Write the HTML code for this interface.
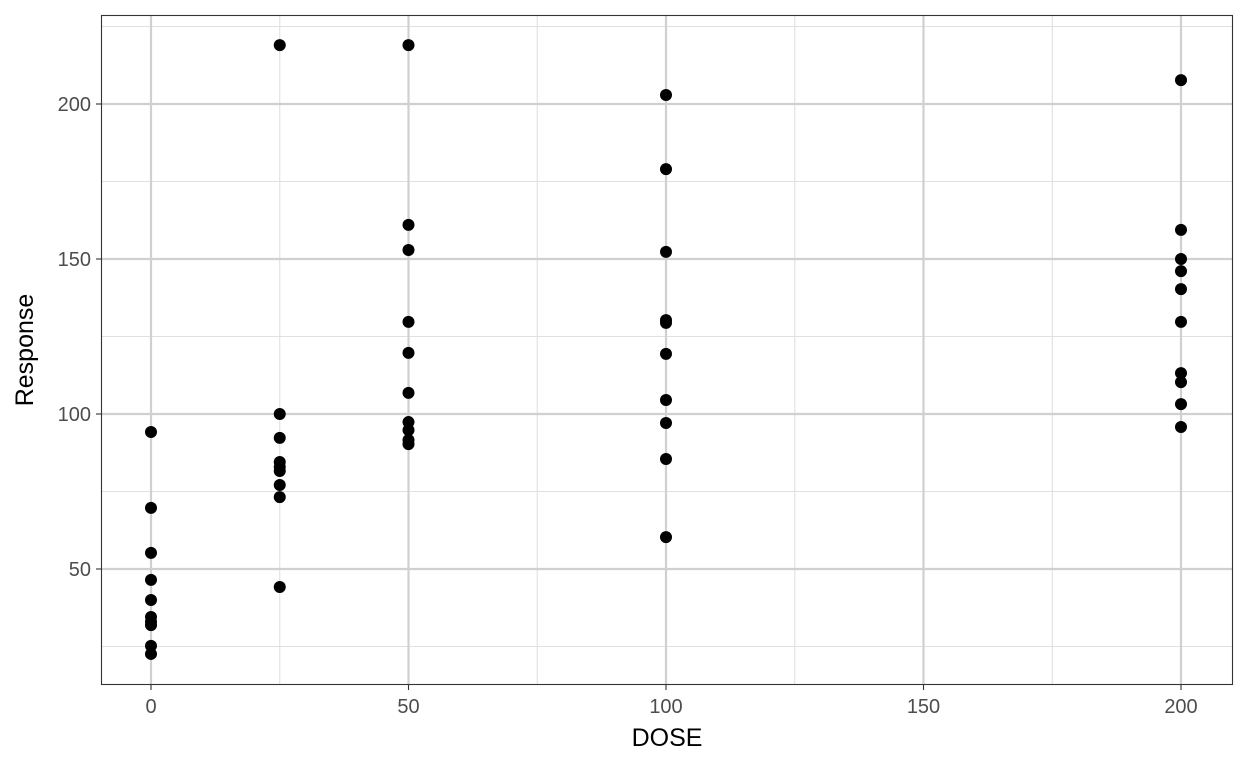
<!DOCTYPE html>
<html><head><meta charset="utf-8"><style>
html,body{margin:0;padding:0;background:#fff;}
svg{display:block;font-family:"Liberation Sans",sans-serif;}
</style></head><body>
<svg id="chart" width="1248" height="768" viewBox="0 0 1248 768" xmlns="http://www.w3.org/2000/svg"></svg>
<script>
const doses = [0, 25, 50, 100, 200];
const responses0 = [94.2, 69.7, 55.2, 46.5, 40, 34.5, 33, 31.9, 25.2, 22.6];
const responses25 = [219, 100, 92.3, 84.5, 82.9, 81.6, 77.1, 73.2, 44.2];
const responses50 = [219, 161, 152.9, 129.7, 119.7, 106.8, 97.4, 94.8, 91.6, 90.3];
const responses100 = [202.9, 179, 152.3, 130.3, 129.4, 119.4, 104.5, 97.1, 85.5, 60.3];
const responses200 = [207.7, 159.4, 150, 146.1, 140.3, 129.7, 113.2, 110.3, 103.2, 95.8];
const xTicks = [0, 50, 100, 150, 200];
const xMinor = [25, 75, 125, 175];
const yTicks = [50, 100, 150, 200];
const yMinor = [25, 75, 125, 175, 225];

const NS = "http://www.w3.org/2000/svg";
const svg = document.getElementById("chart");
const L = 101, R = 1233, T = 15, B = 685;
function xs(v){ return 151 + v * (1181 - 151) / 200; }
function ys(v){ return 724 - v * 3.1; }
function mk(tag, attrs, parent){
  const e = document.createElementNS(NS, tag);
  for (const k in attrs) e.setAttribute(k, attrs[k]);
  (parent || svg).appendChild(e);
  return e;
}
const grid = mk("g", {});


xMinor.forEach(v => mk("line", {x1: xs(v), x2: xs(v), y1: T, y2: B, stroke: "#e0e0e0", "stroke-width": 1.1}, grid));
yMinor.forEach(v => { const y = ys(v); if (y > T && y < B) mk("line", {x1: L, x2: R, y1: y, y2: y, stroke: "#e0e0e0", "stroke-width": 1.1}, grid); });
xTicks.forEach(v => mk("line", {x1: xs(v), x2: xs(v), y1: T, y2: B, stroke: "#d0d0d0", "stroke-width": 2.2}, grid));
yTicks.forEach(v => mk("line", {x1: L, x2: R, y1: ys(v), y2: ys(v), stroke: "#d0d0d0", "stroke-width": 2.2}, grid));

const pts = mk("g", {});


const series = [responses0, responses25, responses50, responses100, responses200];
series.forEach((arr, i) => arr.forEach(v => {
  const c = mk("circle", {cx: xs(doses[i]), cy: ys(v), r: 6, fill: "#000"}, pts);
  
  
}));

const frame = mk("rect", {x: L + 0.5, y: T + 0.5, width: R - L - 1, height: B - T - 1, fill: "none", stroke: "#333", "stroke-width": 1.1});



xTicks.forEach(v => {
  mk("line", {x1: xs(v), x2: xs(v), y1: B, y2: B + 5, stroke: "#333", "stroke-width": 1.1});
  const t = mk("text", {x: xs(v), y: B + 28, "text-anchor": "middle", "font-size": 20, fill: "#4d4d4d"});
  t.textContent = v;
  
  
});
yTicks.forEach(v => {
  mk("line", {x1: L - 5, x2: L, y1: ys(v), y2: ys(v), stroke: "#333", "stroke-width": 1.1});
  const t = mk("text", {x: L - 10, y: ys(v) + 7, "text-anchor": "end", "font-size": 20, fill: "#4d4d4d"});
  t.textContent = v;
  
  
});
const xt = mk("text", {x: (L + R) / 2, y: 746, "text-anchor": "middle", "font-size": 25, fill: "#000"});
xt.textContent = "DOSE";


const yt = mk("text", {x: 0, y: 0, "text-anchor": "middle", "font-size": 25, fill: "#000", transform: "translate(33," + (T + B) / 2 + ") rotate(-90)"});
yt.textContent = "Response";


</script>
</body></html>
